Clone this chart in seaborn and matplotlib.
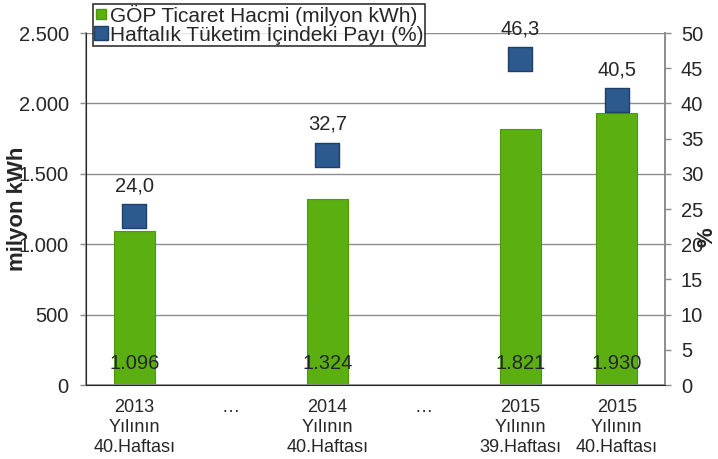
import pandas as pd
import matplotlib.pyplot as plt
import seaborn as sns
from matplotlib.lines import Line2D
from matplotlib.ticker import FuncFormatter

categories = ["2013\nYılının\n40.Haftası", "…", "2014\nYılının\n40.Haftası", "…",
              "2015\nYılının\n39.Haftası", "2015\nYılının\n40.Haftası"]
cat_keys = ["c0", "c1", "c2", "c3", "c4", "c5"]
volume = [1096, None, 1324, None, 1821, 1930]
share = [24.0, None, 32.7, None, 46.3, 40.5]
volume_labels = ["1.096", "", "1.324", "", "1.821", "1.930"]
share_labels = ["24,0", "", "32,7", "", "46,3", "40,5"]

sns.set_style("white")
plt.rcParams['font.family'] = ['Liberation Sans', 'DejaVu Sans']

df = pd.DataFrame({"cat": cat_keys, "volume": volume, "share": share})

fig = plt.figure(figsize=(7.18, 4.59), dpi=100)
ax = fig.add_axes([0.1198, 0.1612, 0.8064, 0.7669])

grid_c = '#8c8c8c'
sns.barplot(data=df, x="cat", y="volume", order=cat_keys, color='#5BAF10',
            edgecolor='#4C9A0C', linewidth=0.8, width=0.42, saturation=1, ax=ax)
ax.set_ylim(0, 2500)
ax.set_yticks(range(0, 2501, 500))
ax.yaxis.set_major_formatter(FuncFormatter(lambda v, p: f"{int(v):,}".replace(",", ".")))
ax.grid(axis='y', color=grid_c, linewidth=1)
ax.set_axisbelow(True)
ax.set_xlim(-0.5, 5.5)
ax.set_xticks(range(6))
ax.set_xticklabels(categories, fontsize=13, linespacing=1.25)
ax.set_xticks([i - 0.5 for i in range(7)], minor=True)
ax.tick_params(axis='x', which='major', length=0, pad=10)
ax.tick_params(axis='x', which='minor', length=5, color=grid_c, width=1)
ax.tick_params(axis='y', length=4.5, color=grid_c, width=1, labelsize=14.5, pad=8)
ax.set_xlabel("")
ax.set_ylabel("milyon kWh", fontsize=16, fontweight='bold')
ax.yaxis.set_label_coords(-0.1, 0.5)
for s in ['left', 'bottom', 'right']:
    ax.spines[s].set_color(grid_c)
    ax.spines[s].set_linewidth(1.2)
ax.spines['top'].set_visible(False)

for i, (v, lab) in enumerate(zip(volume, volume_labels)):
    if v is not None:
        ax.text(i, 150, lab, ha='center', va='center', fontsize=14.5)

ax2 = ax.twinx()
sns.scatterplot(data=df.dropna(), x="cat", y="share", marker='s', s=300,
                color='#2D5A8E', edgecolor='#1E3F66', linewidth=1, ax=ax2, zorder=5)
ax2.set_ylim(0, 50)
ax2.set_yticks(range(0, 51, 5))
ax2.tick_params(axis='y', length=4.5, color=grid_c, width=1, labelsize=14.5, pad=7)
ax2.set_ylabel("%", fontsize=16, fontweight='bold', rotation=90)
ax2.yaxis.set_label_coords(1.055, 0.42)
ax2.spines['top'].set_visible(False)
ax2.spines['right'].set_color(grid_c)
ax2.spines['right'].set_linewidth(1.2)
for i, (v, lab) in enumerate(zip(share, share_labels)):
    if v is not None:
        ax2.annotate(lab, (i, v), xytext=(0, 15), textcoords='offset points',
                     ha='center', va='bottom', fontsize=14.5)

handles = [
    Line2D([], [], marker='s', linestyle='none', markersize=7,
           markerfacecolor='#5BAF10', markeredgecolor='#4C9A0C'),
    Line2D([], [], marker='s', linestyle='none', markersize=10,
           markerfacecolor='#2D5A8E', markeredgecolor='#1E3F66'),
]
leg = fig.legend(handles, ["GÖP Ticaret Hacmi (milyon kWh)", "Haftalık Tüketim İçindeki Payı (%)"],
                 loc='upper left', bbox_to_anchor=(0.129, 0.992), fontsize=15,
                 frameon=True, fancybox=False, edgecolor='black', borderpad=0.05,
                 labelspacing=-0.1, handlelength=0.7, handletextpad=0.1, borderaxespad=0)
leg.get_frame().set_linewidth(1.2)

fig.savefig("out.png", dpi=100)
